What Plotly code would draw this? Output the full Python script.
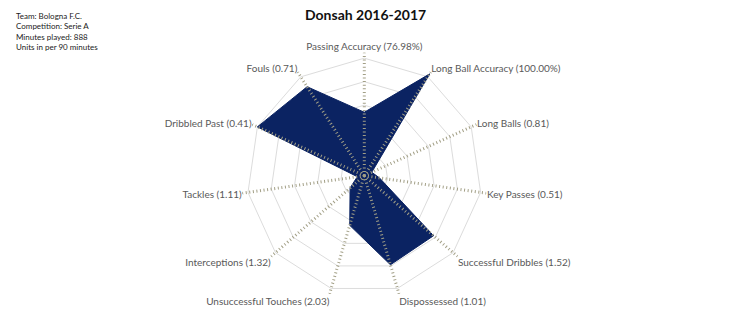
import plotly.graph_objects as go

# Per-90 profile: category names, the displayed stat values, and the
# normalised scores (0 = centre, 1 = outer ring) used for the radar.
categories = [
    "Passing Accuracy", "Long Ball Accuracy", "Long Balls", "Key Passes",
    "Successful Dribbles", "Dispossessed", "Unsuccessful Touches",
    "Interceptions", "Tackles", "Dribbled Past", "Fouls",
]
stat_labels = [
    "76.98%", "100.00%", "0.81", "0.51", "1.52", "1.01", "2.03",
    "1.32", "1.11", "0.41", "0.71",
]
scores = [0.54, 1.03, 0.07, 0.13, 0.78, 0.79, 0.44, 0.16, 0.06, 1.00, 0.90]

info_lines = [
    "Team: Bologna F.C.",
    "Competition: Serie A",
    "Minutes played: 888",
    "Units in per 90 minutes",
]
title_text = "Donsah 2016-2017"

ring_values = [0.2, 0.4, 0.6, 0.8, 1.0]
axis_end = 1.05

tick_text = [f"{c} ({v})" for c, v in zip(categories, stat_labels)]

W, H = 730, 331
cx, cy = 364.3, 175.7          # centre of the radar in pixels (from top-left)
rad = 123.4                    # pixel radius of the full axis range
dom_x = [(cx - rad) / W, (cx + rad) / W]
dom_y = [(H - cy - rad) / H, (H - cy + rad) / H]

fig = go.Figure()

# filled profile
fig.add_trace(go.Scatterpolar(
    r=scores + scores[:1],
    theta=categories + categories[:1],
    mode="lines",
    fill="toself",
    fillcolor="#0b2362",
    line=dict(color="#0b2362", width=1),
    hoverinfo="skip",
    showlegend=False,
))

# dotted spokes drawn above the fill
spoke_r, spoke_t = [], []
for c in categories:
    spoke_r += [0, axis_end, None]
    spoke_t += [c, c, None]
fig.add_trace(go.Scatterpolar(
    r=spoke_r, theta=spoke_t, mode="lines",
    line=dict(color="#a29f86", width=3, dash="1px,2.6px"),
    hoverinfo="skip", showlegend=False, connectgaps=False,
))

# small hub circle at the centre
fig.add_trace(go.Scatterpolar(
    r=[0], theta=[categories[0]], mode="markers",
    marker=dict(symbol="circle-open", size=9, color="#b0b0b0", line=dict(width=1.5)),
    hoverinfo="skip", showlegend=False,
))

fig.update_layout(
    width=W, height=H,
    margin=dict(l=0, r=0, t=0, b=0),
    paper_bgcolor="white",
    plot_bgcolor="white",
    font=dict(family="Lato", color="#595959", size=10),
    polar=dict(
        domain=dict(x=dom_x, y=dom_y),
        bgcolor="white",
        gridshape="linear",
        radialaxis=dict(
            range=[0, axis_end],
            tickvals=ring_values,
            showticklabels=False,
            ticks="",
            showline=False,
            gridcolor="#dcdcdc",
            gridwidth=1,
        ),
        angularaxis=dict(
            type="category",
            categoryarray=categories,
            direction="clockwise",
            rotation=90,
            tickvals=categories,
            ticktext=tick_text,
            showgrid=False,
            showline=False,
            ticks="",
            tickfont=dict(family="Lato", size=10, color="#595959"),
        ),
    ),
    annotations=[
        dict(
            text="<br>".join(info_lines),
            x=14 / W, y=1 - 9 / H, xref="paper", yref="paper",
            xanchor="left", yanchor="top", align="left", showarrow=False,
            font=dict(family="Lato", size=8, color="#1a1a1a"),
        ),
        dict(
            text=f"<b>{title_text}</b>",
            x=365 / W, y=1 - 4 / H, xref="paper", yref="paper",
            xanchor="center", yanchor="top", showarrow=False,
            font=dict(family="Lato", size=14, color="#111111"),
        ),
    ],
)

fig.write_html("out.html")
